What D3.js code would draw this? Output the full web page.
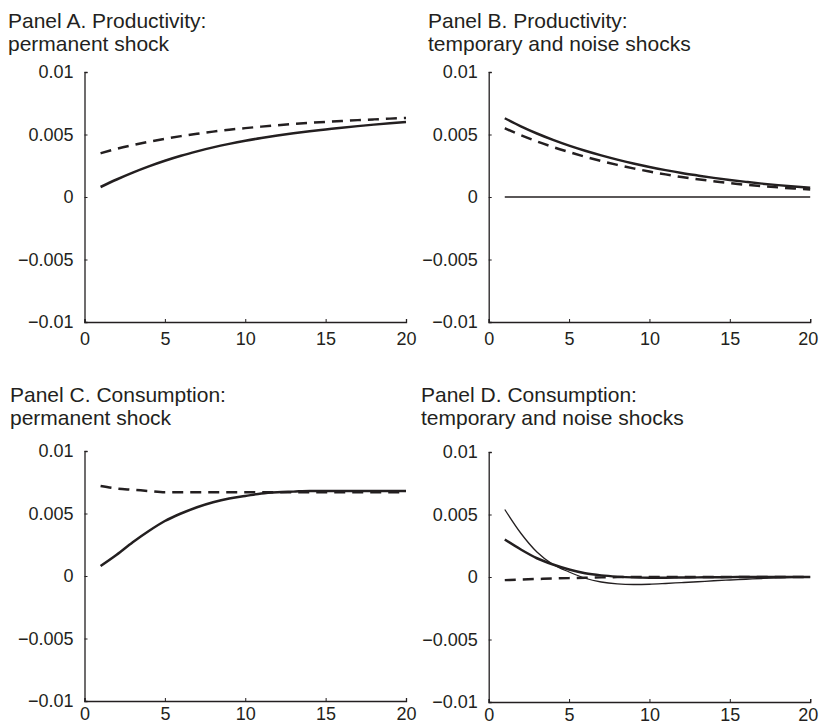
<!DOCTYPE html>
<html>
<head>
<meta charset="utf-8">
<script src="https://cdn.jsdelivr.net/npm/d3@7"></script>
<style>
  body { margin: 0; background: #fff; }
  svg text { font-family: "Liberation Sans", Arial, Helvetica, sans-serif; fill: #231f20; }
</style>
</head>
<body>
<div id="chart"></div>
<script>
// horizons (quarters)
var horizon = [1, 2, 3, 4, 5, 6, 7, 8, 9, 10, 11, 12, 13, 14, 15, 16, 17, 18, 19, 20];

// y tick labels and x tick labels
var yTicks = [-0.01, -0.005, 0, 0.005, 0.01];
var yTickLabels = ['\u22120.01', '\u22120.005', '0', '0.005', '0.01'];
var xTicks = [0, 5, 10, 15, 20];

// Panel A. Productivity: permanent shock
var prodPermSolid = [0.0008, 0.0014, 0.00195, 0.00245, 0.0029, 0.0033, 0.00365, 0.00397, 0.00425, 0.0045,
  0.00472, 0.00492, 0.0051, 0.00526, 0.0054, 0.00554, 0.00567, 0.00579, 0.0059, 0.006];
var prodPermDashed = [0.0035, 0.00385, 0.00415, 0.00442, 0.00466, 0.00487, 0.00506, 0.00523, 0.00538, 0.00551,
  0.00563, 0.00574, 0.00584, 0.00593, 0.00601, 0.00608, 0.00615, 0.00621, 0.00627, 0.00632];

// Panel B. Productivity: temporary and noise shocks
var prodTempSolid = [0.0063, 0.00565, 0.00508, 0.00457, 0.00411, 0.0037, 0.00333, 0.00299, 0.00268, 0.0024,
  0.00215, 0.00192, 0.00172, 0.00153, 0.00136, 0.00121, 0.00107, 0.00095, 0.00084, 0.00074];
var prodTempDashed = [0.0055, 0.00495, 0.00445, 0.004, 0.0036, 0.00322, 0.00288, 0.00257, 0.00229, 0.00204,
  0.00181, 0.0016, 0.00142, 0.00126, 0.00111, 0.00098, 0.00087, 0.00077, 0.00068, 0.0006];
var prodNoiseThin = [0, 0, 0, 0, 0, 0, 0, 0, 0, 0, 0, 0, 0, 0, 0, 0, 0, 0, 0, 0];

// Panel C. Consumption: permanent shock
var consPermSolid = [0.0008, 0.0017, 0.0027, 0.0036, 0.0044, 0.0050, 0.0055, 0.0059, 0.0062, 0.0064,
  0.0066, 0.0067, 0.00675, 0.0068, 0.0068, 0.0068, 0.0068, 0.0068, 0.0068, 0.0068];
var consPermDashed = [0.0072, 0.0070, 0.0069, 0.0068, 0.0067, 0.0067, 0.0067, 0.0067, 0.0067, 0.0067,
  0.0067, 0.0067, 0.0067, 0.0067, 0.0067, 0.0067, 0.0067, 0.0067, 0.0067, 0.0067];

// Panel D. Consumption: temporary and noise shocks
var consTempSolid = [0.0030, 0.0022, 0.0015, 0.0010, 0.0006, 0.0003, 0.00013, 0.00003, -0.00003, -0.00005,
  -0.00005, -0.00004, -0.00003, -0.00002, -0.00001, 0, 0, 0, 0, 0];
var consTempDashed = [-0.00025, -0.0002, -0.00016, -0.00012, -0.00009, -0.00006, -0.00003, -0.00001, 0, 0,
  0, 0, 0, 0, 0, 0, 0, 0, 0, 0];
var consNoiseThin = [0.0054, 0.0035, 0.0020, 0.0010, 0.0004, -0.0001, -0.0004, -0.00055, -0.0006, -0.00058,
  -0.00052, -0.00045, -0.00038, -0.0003, -0.00024, -0.00018, -0.00012, -0.00007, -0.00003, 0];

var ink = '#231f20';

var panels = [
  { title: ['Panel A. Productivity:', 'permanent shock'], tx: 8, ty: 28,
    x0: 84.5, top: 72, bottom: 322, labelDy: 26,
    series: [[prodPermSolid, 'thick'], [prodPermDashed, 'dash']] },
  { title: ['Panel B. Productivity:', 'temporary and noise shocks'], tx: 428, ty: 28,
    x0: 488.7, top: 72, bottom: 322, labelDy: 26,
    series: [[prodNoiseThin, 'thin'], [prodTempSolid, 'thick'], [prodTempDashed, 'dash']] },
  { title: ['Panel C. Consumption:', 'permanent shock'], tx: 10, ty: 402,
    x0: 84.5, top: 451, bottom: 701, labelDy: 22,
    series: [[consPermSolid, 'thick'], [consPermDashed, 'dash']] },
  { title: ['Panel D. Consumption:', 'temporary and noise shocks'], tx: 421, ty: 402,
    x0: 488.7, top: 452, bottom: 702, labelDy: 22,
    series: [[consNoiseThin, 'thin'], [consTempSolid, 'thick'], [consTempDashed, 'dash']] }
];

var svg = d3.select('#chart')
  .append('svg')
  .attr('width', 819)
  .attr('height', 725);

panels.forEach(function(p) {
  var x = d3.scaleLinear().domain([0, 20]).range([p.x0, p.x0 + 321.5]);
  var y = d3.scaleLinear().domain([-0.01, 0.01]).range([p.bottom, p.top]);
  var g = svg.append('g');

  // title
  g.append('text')
    .attr('x', p.tx)
    .attr('y', p.ty)
    .style('font-size', '21px')
    .selectAll('tspan')
    .data(p.title)
    .enter()
    .append('tspan')
    .attr('x', p.tx)
    .attr('dy', (d, i) => i == 0 ? 0 : 23)
    .text(d => d);

  // axes
  var yAxis = d3.axisLeft(y)
    .tickValues(yTicks)
    .tickSize(-3)
    .tickPadding(11)
    .tickFormat((d, i) => yTickLabels[i]);
  var xAxis = d3.axisBottom(x)
    .tickValues(xTicks)
    .tickSize(-3)
    .tickPadding(p.labelDy - 16)
    .tickFormat(d3.format('d'));

  var ya = g.append('g')
    .attr('transform', 'translate(' + p.x0 + ',0)')
    .call(yAxis);
  var xa = g.append('g')
    .attr('transform', 'translate(0,' + p.bottom + ')')
    .call(xAxis);

  [ya, xa].forEach(function(a) {
    a.select('.domain').attr('stroke', ink).attr('stroke-width', 1.3);
    a.selectAll('.tick line').attr('stroke', ink).attr('stroke-width', 1);
    a.selectAll('.tick text').style('font-size', '18px').attr('fill', ink);
  });
  // keep the last x label inside the page on the right-hand panels
  xa.selectAll('.tick text').filter(d => d == 20).attr('dx', p.x0 > 400 ? -2.5 : 0);

  // lines
  var line = d3.line()
    .x((d, i) => x(horizon[i]))
    .y(d => y(d))
    .curve(d3.curveMonotoneX);

  p.series.forEach(function(s) {
    g.append('path')
      .datum(s[0])
      .attr('d', line)
      .attr('fill', 'none')
      .attr('stroke', ink)
      .attr('stroke-width', s[1] == 'thin' ? 1.3 : 2.5)
      .attr('stroke-dasharray', s[1] == 'dash' ? '11,7' : null);
  });
});
</script>
</body>
</html>
